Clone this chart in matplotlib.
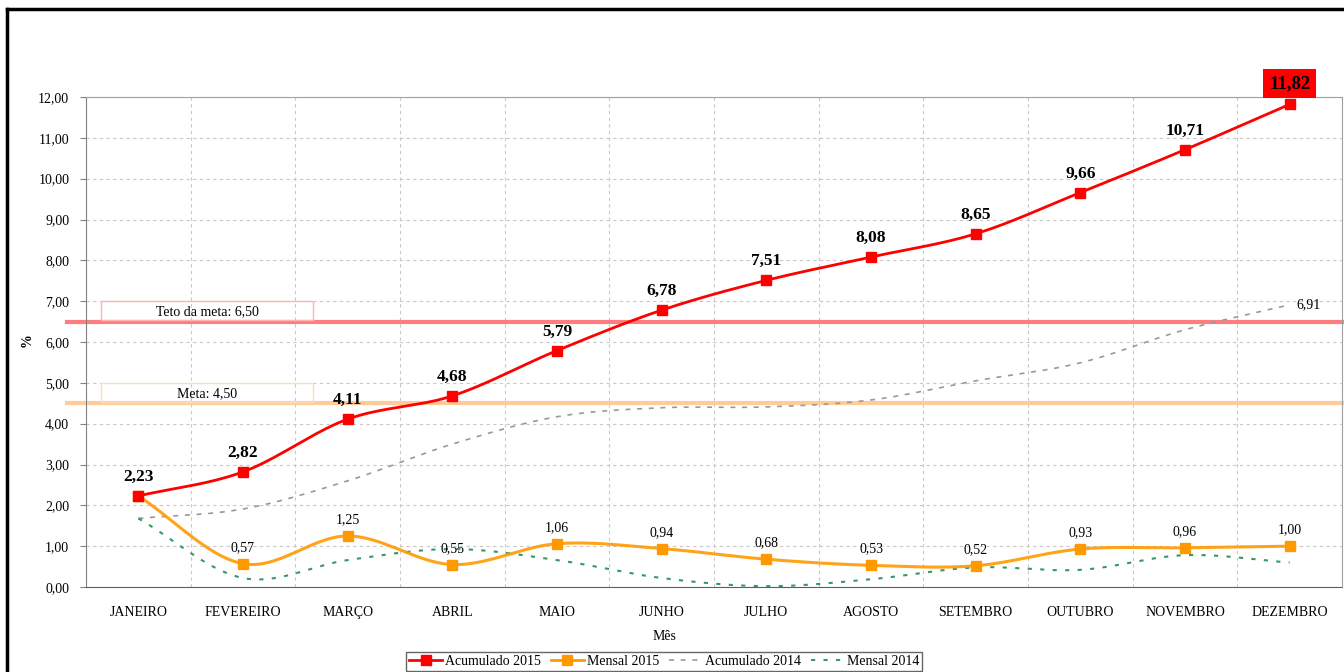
import numpy as np
import matplotlib
matplotlib.use("Agg")
import matplotlib.pyplot as plt
from matplotlib.patches import Rectangle
from matplotlib.lines import Line2D

plt.rcParams['font.family'] = ['Liberation Serif', 'DejaVu Serif']

meses = ["JANEIRO", "FEVEREIRO", "MARÇO", "ABRIL", "MAIO", "JUNHO",
         "JULHO", "AGOSTO", "SETEMBRO", "OUTUBRO", "NOVEMBRO", "DEZEMBRO"]
acum_2015 = [2.23, 2.82, 4.11, 4.68, 5.79, 6.78, 7.51, 8.08, 8.65, 9.66, 10.71, 11.82]
mensal_2015 = [2.23, 0.57, 1.25, 0.55, 1.06, 0.94, 0.68, 0.53, 0.52, 0.93, 0.96, 1.00]
acum_2014 = [1.68, 1.91, 2.60, 3.50, 4.17, 4.39, 4.41, 4.58, 5.05, 5.49, 6.30, 6.91]
mensal_2014 = [1.68, 0.22, 0.66, 0.93, 0.66, 0.22, 0.02, 0.19, 0.48, 0.42, 0.78, 0.60]
teto_meta = 6.50
meta = 4.50


def fmt(v):
    return f"{v:.2f}".replace(".", ",")


def smooth(y, n=20):
    # excel-like smoothed line (catmull-rom through the points)
    y = np.asarray(y, dtype=float)
    x = np.arange(len(y), dtype=float)
    px = np.concatenate([[2 * x[0] - x[1]], x, [2 * x[-1] - x[-2]]])
    py = np.concatenate([[2 * y[0] - y[1]], y, [2 * y[-1] - y[-2]]])
    xs, ys = [], []
    t = np.linspace(0, 1, n, endpoint=False)
    for i in range(1, len(px) - 2):
        for p, out in ((px, xs), (py, ys)):
            p0, p1, p2, p3 = p[i - 1], p[i], p[i + 1], p[i + 2]
            out.append(0.5 * ((2 * p1) + (-p0 + p2) * t
                              + (2 * p0 - 5 * p1 + 4 * p2 - p3) * t ** 2
                              + (-p0 + 3 * p1 - 3 * p2 + p3) * t ** 3))
    xs.append([x[-1]])
    ys.append([y[-1]])
    return np.concatenate(xs), np.concatenate(ys)


fig = plt.figure(figsize=(13.44, 6.72), dpi=100)
ax = fig.add_axes([86 / 1344, 1 - 587 / 672, (1342 - 86) / 1344, (587 - 97) / 672])

x = np.arange(len(meses))

# -----------------------
# series
# -----------------------
c_red = "#FF0000"
c_orange = "#FF9900"
c_gray = "#999999"
c_green = "#339966"

sx, sy = smooth(acum_2014)
ax.plot(sx, sy, color=c_gray, lw=1.2, ls=(0, (3, 4)), zorder=3)
sx, sy = smooth(mensal_2014)
ax.plot(sx, sy, color=c_green, lw=1.5, ls=(0, (2, 4)), zorder=3)
sx, sy = smooth(mensal_2015)
ax.plot(sx, sy, color=c_orange, lw=2.2, zorder=4, alpha=0.9)
ax.plot(x, mensal_2015, ls="none", marker="s", ms=7.5, color=c_orange, zorder=5)
sx, sy = smooth(acum_2015)
ax.plot(sx, sy, color=c_red, lw=2, zorder=6)
ax.plot(x, acum_2015, ls="none", marker="s", ms=7, color=c_red, zorder=7)

# meta lines
ax.axhline(teto_meta, xmin=-0.015, xmax=1, color="#FF7C80", lw=3, clip_on=False, zorder=2)
ax.axhline(meta, xmin=-0.015, xmax=1, color="#FFCC99", lw=3, clip_on=False, zorder=2)
ax.add_patch(Rectangle((-0.357, teto_meta + 0.03), 2.03, 0.48, fill=False,
                       ec="#FFB3B3", lw=1, zorder=2))
ax.text(0.66, teto_meta + 0.25, "Teto da meta: " + fmt(teto_meta), ha="center",
        va="center", fontsize=10, zorder=3)
ax.add_patch(Rectangle((-0.357, meta + 0.03), 2.03, 0.47, fill=False,
                       ec="#FFDDBB", lw=1, zorder=2))
ax.text(0.66, meta + 0.24, "Meta: " + fmt(meta), ha="center",
        va="center", fontsize=10, zorder=3)

# -----------------------
# data labels
# -----------------------
for i, v in enumerate(acum_2015):
    if i == len(acum_2015) - 1:
        ax.annotate(fmt(v), (i, v), xytext=(0, 9), textcoords="offset points",
                    ha="center", va="bottom", fontsize=13.5, fontweight="bold",
                    bbox=dict(boxstyle="square,pad=0.32", fc=c_red, ec="none"),
                    zorder=8)
    else:
        ax.annotate(fmt(v), (i, v), xytext=(0, 8), textcoords="offset points",
                    ha="center", va="bottom", fontsize=12.5, fontweight="bold",
                    zorder=8)
for i, v in enumerate(mensal_2015):
    if i == 0:
        continue
    ax.annotate(fmt(v), (i, v), xytext=(0, 7), textcoords="offset points",
                ha="center", va="bottom", fontsize=10, zorder=8)
ax.annotate(fmt(acum_2014[-1]), (len(acum_2014) - 1, acum_2014[-1]), xytext=(5, 0),
            textcoords="offset points", ha="left", va="center", fontsize=10)

# -----------------------
# axes
# -----------------------
ax.set_xlim(-0.5, len(meses) - 0.5)
ax.set_ylim(0, 12)
ax.set_yticks(np.arange(0, 13, 1))
ax.set_yticklabels([fmt(v) for v in np.arange(0, 13, 1)], fontsize=10)
ax.set_xticks(x)
ax.set_xticklabels(meses, fontsize=10)
ax.set_xticks(np.arange(0.5, len(meses) - 0.5, 1), minor=True)
ax.tick_params(axis="x", which="both", length=0, pad=14)
ax.tick_params(axis="y", length=4, color="#808080", pad=8)
ax.grid(axis="y", color="#C8C8C8", ls=(0, (3, 3)), lw=0.8)
ax.grid(axis="x", which="minor", color="#C8C8C8", ls=(0, (3, 3)), lw=0.8)
for s in ax.spines.values():
    s.set_color("#A0A0A0")
ax.spines["left"].set_color("#808080")
ax.spines["bottom"].set_color("#606060")
ax.spines["bottom"].set_linestyle((0, (2, 1)))

fig.text(664 / 1344, 1 - 636 / 672, "Mês", ha="center", va="center", fontsize=10)
fig.text(27 / 1344, 1 - 340 / 672, "%", ha="center", va="center", fontsize=10,
         rotation=90, fontweight="bold")

# legend
handles = [
    Line2D([], [], color=c_red, lw=2, marker="s", ms=7),
    Line2D([], [], color=c_orange, lw=2, marker="s", ms=7),
    Line2D([], [], color=c_gray, lw=1.2, ls=(0, (3, 4))),
    Line2D([], [], color=c_green, lw=1.5, ls=(0, (2, 4))),
]
leg = fig.legend(handles, ["Acumulado 2015", "Mensal 2015", "Acumulado 2014", "Mensal 2014"],
                 loc="upper center", bbox_to_anchor=(664 / 1344, 1 - 652 / 672), ncol=4,
                 fontsize=10, frameon=True, fancybox=False, edgecolor="#404040",
                 handlelength=2.4, handletextpad=0.2, columnspacing=0.7,
                 borderpad=0.2, borderaxespad=0)
leg.get_frame().set_linewidth(1)

# outer frame (cropped on the right and bottom)
fig.add_artist(Line2D([7 / 1344, 7 / 1344], [0, 1 - 9 / 672], color="black", lw=2.5,
                      transform=fig.transFigure))
fig.add_artist(Line2D([7 / 1344, 1], [1 - 9 / 672, 1 - 9 / 672], color="black", lw=2.5,
                      transform=fig.transFigure))

fig.savefig("out.png", dpi=100)
